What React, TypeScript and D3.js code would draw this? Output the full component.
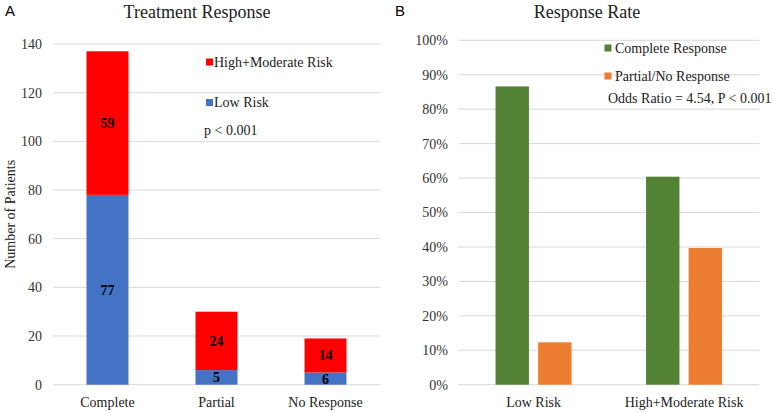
import React from "react";
import * as d3 from "d3";

const responseCategories = ["Complete", "Partial", "No Response"];
const lowRiskCounts = [78, 6, 5];
const highRiskCounts = [59, 24, 14];
const lowRiskLabels = ["77", "5", "6"];
const highRiskLabels = ["59", "24", "14"];
const countTicks = [0, 20, 40, 60, 80, 100, 120, 140];

const riskGroups = ["Low Risk", "High+Moderate Risk"];
const completeRate = [0.866, 0.604];
const partialNoneRate = [0.123, 0.397];
const rateTicks = [0, 0.1, 0.2, 0.3, 0.4, 0.5, 0.6, 0.7, 0.8, 0.9, 1.0];

const SERIF = "'Liberation Serif', 'Times New Roman', serif";
const SANS = "'Liberation Sans', Arial, sans-serif";
const RED = "#FF0000";
const BLUE = "#4472C4";
const GREEN = "#548235";
const ORANGE = "#ED7D31";
const GRID = "#D9D9D9";

function PanelA() {
  const left = 53, right = 380, top = 44, bottom = 384.7;
  const x = d3.scaleBand<string>().domain(responseCategories).range([left, right]).paddingInner(0.615).paddingOuter(0.3075);
  const y = d3.scaleLinear().domain([0, 140]).range([bottom, top]);
  return (
    <g>
      <text x={5} y={16} fontFamily={SANS} fontSize={15} fill="#000">A</text>
      <text x={197} y={18} textAnchor="middle" fontFamily={SERIF} fontSize={18} fill="#222">Treatment Response</text>
      {countTicks.map((t) => (
        <g key={t}>
          <line x1={left} x2={right} y1={y(t)} y2={y(t)} stroke={GRID} strokeWidth={1} />
          <text x={42} y={y(t)} dy="0.35em" textAnchor="end" fontFamily={SERIF} fontSize={14} fill="#333">{t}</text>
        </g>
      ))}
      {responseCategories.map((c, i) => {
        const bx = x(c)!;
        const w = x.bandwidth();
        const yLow = y(lowRiskCounts[i]);
        const yHigh = y(lowRiskCounts[i] + highRiskCounts[i]);
        return (
          <g key={c}>
            <rect x={bx} y={yLow} width={w} height={bottom - yLow} fill={BLUE} />
            <rect x={bx} y={yHigh} width={w} height={yLow - yHigh} fill={RED} />
            <text x={bx + w / 2} y={(yLow + bottom) / 2} dy="0.35em" textAnchor="middle" fontFamily={SERIF} fontSize={14} fontWeight="bold" fill="#000">{lowRiskLabels[i]}</text>
            <text x={bx + w / 2} y={(yHigh + yLow) / 2} dy="0.35em" textAnchor="middle" fontFamily={SERIF} fontSize={14} fontWeight="bold" fill="#000">{highRiskLabels[i]}</text>
            <text x={bx + w / 2} y={402} dy="0.35em" textAnchor="middle" fontFamily={SERIF} fontSize={14} fill="#222">{c}</text>
          </g>
        );
      })}
      <text transform={`translate(10,${(top + bottom) / 2}) rotate(-90)`} dy="0.35em" textAnchor="middle" fontFamily={SERIF} fontSize={14} fill="#222">Number of Patients</text>
      <rect x={206} y={58.5} width={7} height={7} fill={RED} />
      <text x={214} y={62} dy="0.35em" fontFamily={SERIF} fontSize={14} fill="#222">High+Moderate Risk</text>
      <rect x={206} y={99} width={7} height={7} fill={BLUE} />
      <text x={214} y={102.5} dy="0.35em" fontFamily={SERIF} fontSize={14} fill="#222">Low Risk</text>
      <text x={204} y={130} dy="0.35em" fontFamily={SERIF} fontSize={14} fill="#222">p &lt; 0.001</text>
    </g>
  );
}

function PanelB() {
  const left = 458.3, right = 759.3, top = 40.3, bottom = 384.7;
  const series = [
    { name: "Complete Response", values: completeRate, color: GREEN },
    { name: "Partial/No Response", values: partialNoneRate, color: ORANGE },
  ];
  const x0 = d3.scaleBand<string>().domain(riskGroups).range([left, right]).paddingInner(0.495).paddingOuter(0.2475);
  const x1 = d3.scaleBand<string>().domain(series.map((s) => s.name)).range([0, x0.bandwidth()]).paddingInner(0.216);
  const y = d3.scaleLinear().domain([0, 1]).range([bottom, top]);
  const fmt = d3.format(".0%");
  return (
    <g>
      <text x={395} y={16} fontFamily={SANS} fontSize={15} fill="#000">B</text>
      <text x={587} y={18} textAnchor="middle" fontFamily={SERIF} fontSize={18} fill="#222">Response Rate</text>
      {rateTicks.map((t) => (
        <g key={t}>
          <line x1={left} x2={right} y1={y(t)} y2={y(t)} stroke={GRID} strokeWidth={1} />
          <text x={448} y={y(t)} dy="0.35em" textAnchor="end" fontFamily={SERIF} fontSize={14} fill="#333">{fmt(t)}</text>
        </g>
      ))}
      {riskGroups.map((g, i) => (
        <g key={g}>
          {series.map((s) => {
            const bx = x0(g)! + x1(s.name)!;
            const yv = y(s.values[i]);
            return <rect key={s.name} x={bx} y={yv} width={x1.bandwidth()} height={bottom - yv} fill={s.color} />;
          })}
          <text x={x0(g)! + x0.bandwidth() / 2} y={402} dy="0.35em" textAnchor="middle" fontFamily={SERIF} fontSize={14} fill="#222">{g}</text>
        </g>
      ))}
      <rect x={604.5} y={44.5} width={7} height={7} fill={GREEN} />
      <text x={615} y={48} dy="0.35em" fontFamily={SERIF} fontSize={14} fill="#222">{series[0].name}</text>
      <rect x={604.5} y={72.5} width={7} height={7} fill={ORANGE} />
      <text x={615} y={76} dy="0.35em" fontFamily={SERIF} fontSize={14} fill="#222">{series[1].name}</text>
      <text x={608} y={98} dy="0.35em" fontFamily={SERIF} fontSize={14} fill="#222">Odds Ratio = 4.54, P &lt; 0.001</text>
    </g>
  );
}

export default function App() {
  return (
    <svg width={774} height={412} style={{ position: "absolute", left: 0, top: 0, background: "#fff" }}>
      <rect width={774} height={412} fill="#fff" />
      <PanelA />
      <PanelB />
    </svg>
  );
}
